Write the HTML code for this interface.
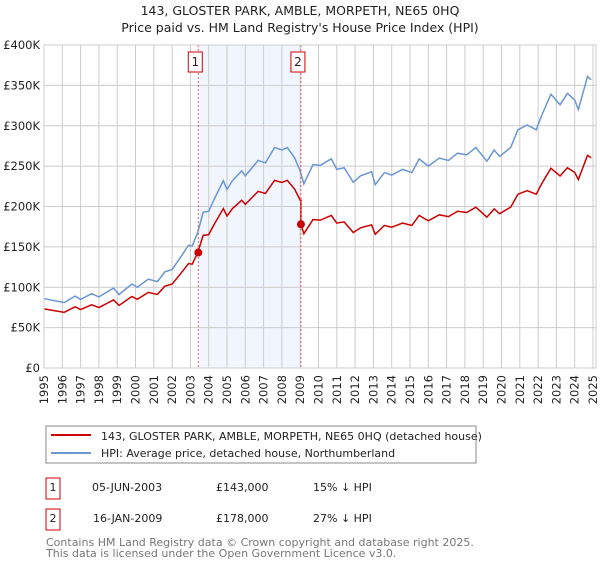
<!DOCTYPE html>
<html><head><meta charset="utf-8"><style>
body{margin:0;background:#fff;font-family:"DejaVu Sans","Liberation Sans",sans-serif;}
svg text{font-family:"DejaVu Sans","Liberation Sans",sans-serif;}
</style></head><body>
<svg id="c" width="600" height="560" xmlns="http://www.w3.org/2000/svg">
<text x="300" y="15" text-anchor="middle" font-size="12.5" fill="#222">143, GLOSTER PARK, AMBLE, MORPETH, NE65 0HQ</text>
<text x="300" y="32" text-anchor="middle" font-size="12.5" fill="#222">Price paid vs. HM Land Registry's House Price Index (HPI)</text>
<g id="grid"></g><g id="marks"></g>
<rect x="46" y="426" width="430" height="37" fill="none" stroke="#888"/>
<line x1="51" y1="435" x2="91" y2="435" stroke="#cc0000" stroke-width="2"/>
<text x="101" y="440" font-size="11" fill="#222">143, GLOSTER PARK, AMBLE, MORPETH, NE65 0HQ (detached house)</text>
<line x1="51" y1="453" x2="91" y2="453" stroke="#6a96d2" stroke-width="2"/>
<text x="101" y="457" font-size="11" fill="#222">HPI: Average price, detached house, Northumberland</text>
<g font-size="11" fill="#222">
<rect x="46" y="478" width="14" height="21" fill="none" stroke="#cc0000"/>
<text x="53" y="491" text-anchor="middle">1</text>
<text x="92" y="491">05-JUN-2003</text>
<text x="216" y="491">£143,000</text>
<text x="313" y="491">15% ↓ HPI</text>
<rect x="46" y="509" width="14" height="21" fill="none" stroke="#cc0000"/>
<text x="53" y="522" text-anchor="middle">2</text>
<text x="93" y="522">16-JAN-2009</text>
<text x="216" y="522">£178,000</text>
<text x="313" y="522">27% ↓ HPI</text>
</g>
<text x="46" y="546" font-size="11" fill="#777">Contains HM Land Registry data © Crown copyright and database right 2025.</text>
<text x="46" y="557" font-size="11" fill="#777">This data is licensed under the Open Government Licence v3.0.</text>
</svg>
<script>
const hpiYears=[1995.0,1996.1,1996.7,1997.0,1997.6,1998.0,1998.8,1999.1,1999.8,2000.1,2000.7,2001.2,2001.6,2002.0,2002.4,2002.9,2003.1,2003.4,2003.7,2004.0,2004.3,2004.8,2005.0,2005.3,2005.8,2006.0,2006.7,2007.1,2007.6,2008.0,2008.3,2008.7,2009.0,2009.2,2009.7,2010.1,2010.7,2011.0,2011.4,2011.9,2012.3,2012.9,2013.1,2013.6,2014.0,2014.6,2015.1,2015.5,2016.0,2016.6,2017.1,2017.6,2018.1,2018.6,2019.2,2019.6,2019.9,2020.5,2020.9,2021.4,2021.9,2022.2,2022.7,2023.2,2023.6,2024.0,2024.2,2024.7,2024.9];
const hpiValues=[86,81,89,85,92,88,99,91,104,100,110,107,119,122,135,152,151,168,193,194,209,232,221,232,244,238,257,254,273,270,273,260,244,228,252,251,259,246,248,230,238,243,227,242,239,246,242,259,250,260,257,266,264,273,256,270,262,273,295,301,295,313,339,326,340,332,320,361,357];
const saleYears=[2003.43,2009.04];
const salePrices=[143,178];
const saleHpi=[168,244];
const yTicks=[0,50,100,150,200,250,300,350,400];
const yTickLabels=["£0","£50K","£100K","£150K","£200K","£250K","£300K","£350K","£400K"];
const xTicks=[1995,1996,1997,1998,1999,2000,2001,2002,2003,2004,2005,2006,2007,2008,2009,2010,2011,2012,2013,2014,2015,2016,2017,2018,2019,2020,2021,2022,2023,2024,2025];
const X0=44,X1=593,Y0=368,Y1=45;
const xs=t=>X0+(t-1995)/30*(X1-X0);
const ys=v=>Y0-v/400*(Y0-Y1);
const NS="http://www.w3.org/2000/svg";
const grid=document.getElementById('grid'),marks=document.getElementById('marks');
function mk(p,tag,at){const e=document.createElementNS(NS,tag);for(const k in at)e.setAttribute(k,at[k]);p.appendChild(e);return e;}
let sh=mk(grid,'rect',{x:xs(saleYears[0]),y:Y1,width:xs(saleYears[1])-xs(saleYears[0]),height:Y0-Y1,fill:'#eef3fd',opacity:0.8});


yTicks.forEach((v,i)=>{
 let l=mk(grid,'line',{x1:X0,x2:X1+3,y1:ys(v),y2:ys(v),stroke:'#cccccc'});
 
 
 let t=mk(grid,'text',{x:X0-4,y:ys(v)+4,'text-anchor':'end','font-size':11.5,fill:'#222'});t.textContent=yTickLabels[i];
 
 
});
xTicks.forEach(y=>{
 let l=mk(grid,'line',{x1:xs(y),x2:xs(y),y1:Y1,y2:Y0,stroke:'#cccccc'});
 
 
 let t=mk(grid,'text',{x:0,y:0,'text-anchor':'end','font-size':11.5,fill:'#222',transform:`translate(${xs(y)+4},${Y0+7}) rotate(-90)`});t.textContent=y;
 
 
});
let hp=mk(marks,'polyline',{points:hpiYears.map((t,i)=>xs(t)+','+ys(hpiValues[i])).join(' '),fill:'none',stroke:'#6a96d2','stroke-width':1.5});


const pts=[];
hpiYears.forEach((t,i)=>{const k=t<saleYears[1]?0:1;if(t>=saleYears[1]&&hpiYears[i-1]<saleYears[1]){pts.push([saleYears[1],hpiValues[i-1]*salePrices[0]/saleHpi[0]]);pts.push([saleYears[1],salePrices[1]]);}pts.push([t,hpiValues[i]*salePrices[k]/saleHpi[k]]);});
let pl=mk(marks,'polyline',{points:pts.map(p=>xs(p[0])+','+ys(p[1])).join(' '),fill:'none',stroke:'#cc0000','stroke-width':1.5});


saleYears.forEach((t,i)=>{
 let v=mk(marks,'line',{x1:xs(t),x2:xs(t),y1:Y1,y2:Y0,stroke:'#e06060','stroke-dasharray':'2,2'});
 
 
 let d=mk(marks,'circle',{cx:xs(t),cy:ys(salePrices[i]),r:4,fill:'#cc0000'});
 
 
 let b=mk(marks,'rect',{x:xs(t)-10,y:52,width:14,height:20,fill:'#fff',stroke:'#cc0000'});
 
 
 let tx=mk(marks,'text',{x:xs(t)-3,y:66,'text-anchor':'middle','font-size':12,fill:'#222'});tx.textContent=i+1;
 
 
});
let ax=mk(marks,'rect',{x:X0,y:Y1,width:X1-X0+3,height:Y0-Y1,fill:'none',stroke:'#cccccc'});


</script>
</body></html>
